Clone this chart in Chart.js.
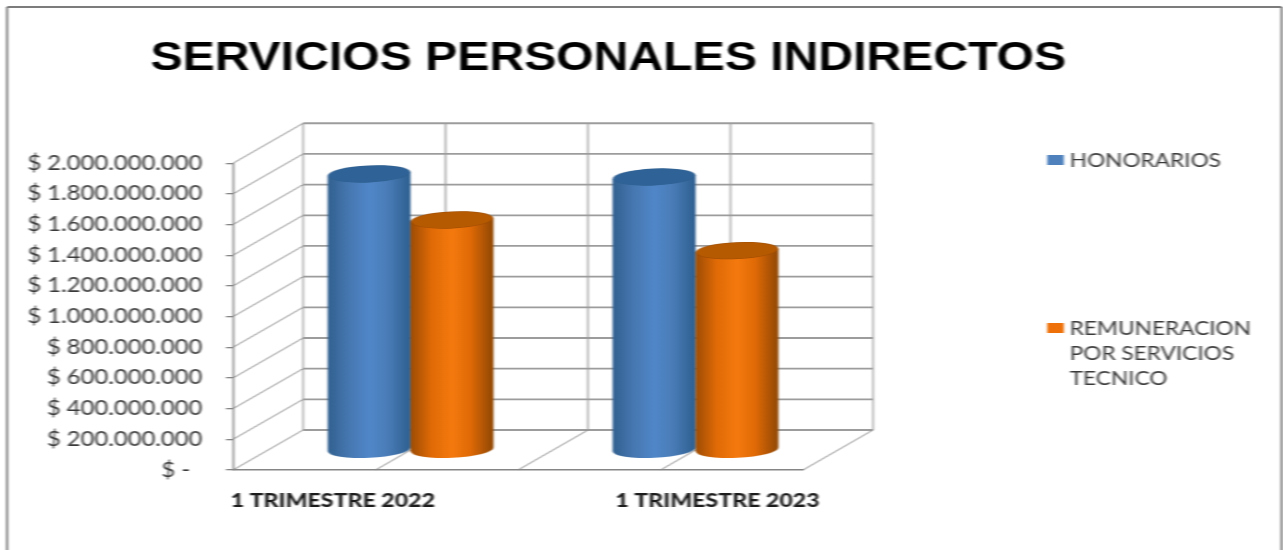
<!DOCTYPE html>
<html>
<head>
<meta charset="utf-8">
<script src="https://cdn.jsdelivr.net/npm/chart.js@4"></script>
<style>
  html, body { margin: 0; padding: 0; background: #fff; overflow: hidden; }
  /* the original picture is a horizontally stretched, soft screenshot */
  #wrap { position: absolute; left: 0; top: 0; width: 1087px; height: 550px; transform-origin: 0 0; transform: scaleX(1.18); filter: blur(0.7px); }
</style>
</head>
<body>
<div id="wrap"><canvas id="chart" width="1087" height="550"></canvas></div>
<script>
// ── Data ──────────────────────────────────────────────────────────────────────
const categories = ['1 TRIMESTRE 2022', '1 TRIMESTRE 2023'];
const honorarios = [1800000000, 1780000000];
const remuneracion = [1500000000, 1300000000];
const seriesLines = [['HONORARIOS'], ['REMUNERACION', 'POR SERVICIOS', 'TECNICO']];
const yTickLabels = ['$ -  ', '$ 200.000.000', '$ 400.000.000', '$ 600.000.000', '$ 800.000.000',
  '$ 1.000.000.000', '$ 1.200.000.000', '$ 1.400.000.000', '$ 1.600.000.000', '$ 1.800.000.000', '$ 2.000.000.000'];

// ── Layout constants ──────────────────────────────────────────────────────────
const DEPTH_X = 59.3, DEPTH_Y = -40;   // back wall offset from the front plane
const CATEGORY_X = [282, 608];
const LEGEND_Y = [161, 329];
const GRID = '#9c9c9c', AXIS = '#858585';

const shades = {
  '#4f81bd': { cap: '#2f6398', stops: ['#31608f', '#4677b0', '#5087c9', '#4a7db8', '#2e5f90'] },
  '#ed7008': { cap: '#b65a02', stops: ['#9c4c04', '#e06a06', '#f57a0e', '#e06a06', '#8f4704'] }
};

// ── Cylinder bars ─────────────────────────────────────────────────────────────
class CylinderElement extends Chart.BarElement {
  draw(ctx) {
    const w = this.width, rx = w / 2, ry = 8.5, tilt = -0.055;
    const cx = this.x + DEPTH_X / 2;
    const top = this.y + DEPTH_Y / 2, bottom = this.base + DEPTH_Y / 2;
    const lift = Math.sin(tilt) * rx;
    const shade = shades[this.options.backgroundColor];
    const grad = ctx.createLinearGradient(cx - rx, 0, cx + rx, 0);
    [0, 0.25, 0.5, 0.72, 1].forEach((p, i) => grad.addColorStop(p, shade.stops[i]));
    ctx.save();
    ctx.beginPath();
    ctx.moveTo(cx - rx, top - lift);
    ctx.lineTo(cx + rx, top + lift);
    ctx.lineTo(cx + rx, bottom + lift);
    ctx.ellipse(cx, bottom, rx, ry, tilt, 0, Math.PI);
    ctx.closePath();
    ctx.fillStyle = grad;
    ctx.fill();
    ctx.beginPath();
    ctx.ellipse(cx, top, rx, ry, tilt, 0, Math.PI * 2);
    ctx.fillStyle = shade.stops[0];
    ctx.fill();
    ctx.beginPath();
    ctx.ellipse(cx, top, rx - 1, ry - 0.5, tilt, 0, Math.PI * 2);
    ctx.fillStyle = shade.cap;
    ctx.fill();
    ctx.restore();
  }
}
CylinderElement.id = 'cylinder';
CylinderElement.defaults = Chart.BarElement.defaults;
CylinderElement.defaultRoutes = Chart.BarElement.defaultRoutes;

class CylinderController extends Chart.BarController {}
CylinderController.id = 'cylinder';
CylinderController.defaults = Object.assign({}, Chart.BarController.defaults, { dataElementType: 'cylinder' });
CylinderController.overrides = Chart.BarController.overrides;
Chart.register(CylinderElement, CylinderController);

// ── Walls, floor, frame, labels ───────────────────────────────────────────────
function line(ctx, x1, y1, x2, y2, color, width) {
  ctx.strokeStyle = color;
  ctx.lineWidth = width;
  ctx.beginPath();
  ctx.moveTo(x1, y1);
  ctx.lineTo(x2, y2);
  ctx.stroke();
}

const scene = {
  id: 'scene',
  afterLayout(chart) {
    // title is centred over the plot and legend, not the whole frame
    chart.titleBlock.left = 0;
    chart.titleBlock.right = 1031;
  },
  beforeDatasetsDraw(chart) {
    const { ctx, scales: { x, y } } = chart;
    const floor = y.getPixelForValue(0);
    ctx.save();
    y.ticks.forEach(t => {
      const py = y.getPixelForValue(t.value);
      line(ctx, x.left, py, x.left + DEPTH_X, py + DEPTH_Y, '#8c8c8c', 1);
      line(ctx, x.left + DEPTH_X, py + DEPTH_Y, x.right + DEPTH_X, py + DEPTH_Y, GRID, 1.8);
    });
    const step = (x.getPixelForValue(1) - x.getPixelForValue(0)) / 2;
    for (let k = 0; k <= 4; k++) {
      const px = x.left + k * step;
      line(ctx, px + DEPTH_X, y.top + DEPTH_Y, px + DEPTH_X, floor + DEPTH_Y, GRID, 1.3);
      if (k > 0) line(ctx, px, floor, px + DEPTH_X, floor + DEPTH_Y, '#8c8c8c', 1);
    }
    // orange sits in front of blue, so draw in dataset order
    chart.data.datasets.forEach((d, i) => {
      chart.getDatasetMeta(i).data.forEach(el => el.draw(ctx));
    });
    ctx.restore();
    return false;
  },
  afterDraw(chart) {
    const { ctx } = chart;
    ctx.save();
    // outer frame, open at the bottom
    line(ctx, 6, 7, 6, 550, '#7c7c7c', 1.8);
    line(ctx, 6, 7, 1086, 7, '#7c7c7c', 1.8);
    line(ctx, 1086, 7, 1086, 550, '#7c7c7c', 1.8);
    // category labels
    ctx.fillStyle = '#1c1c1c';
    ctx.font = '900 19.6px Lato';
    ctx.textAlign = 'center';
    ctx.textBaseline = 'middle';
    categories.forEach((c, i) => ctx.fillText(c, CATEGORY_X[i], 501));
    // legend
    ctx.font = '19.2px Lato';
    ctx.textAlign = 'left';
    seriesLines.forEach((lines, i) => {
      ctx.fillStyle = chart.data.datasets[i].backgroundColor;
      ctx.fillRect(887.5, LEGEND_Y[i] - 6, 14, 10);
      ctx.fillStyle = '#3a3a3a';
      lines.forEach((t, k) => ctx.fillText(t, 906.5, LEGEND_Y[i] + k * 25));
    });
    ctx.restore();
  }
};

// ── Chart ─────────────────────────────────────────────────────────────────────
new Chart(document.getElementById('chart'), {
  type: 'cylinder',
  data: {
    labels: categories,
    datasets: [
      { label: seriesLines[0].join(' '), data: honorarios, backgroundColor: '#4f81bd', clip: false,
        barPercentage: 1, categoryPercentage: 0.582 },
      { label: seriesLines[1].join(' '), data: remuneracion, backgroundColor: '#ed7008', clip: false,
        barPercentage: 1, categoryPercentage: 0.582 }
    ]
  },
  options: {
    responsive: false,
    animation: false,
    layout: { padding: { left: 0, right: 406.5, top: 0, bottom: 80 } },
    plugins: {
      legend: { display: false },
      tooltip: { enabled: false },
      title: {
        display: true,
        text: 'SERVICIOS PERSONALES INDIRECTOS',
        color: '#000',
        font: { family: '"Liberation Sans"', size: 40.8, weight: 'bold' },
        padding: { top: 34, bottom: 80.3 }
      }
    },
    scales: {
      x: {
        type: 'category',
        offset: true,
        grid: { display: false },
        border: { display: true, color: AXIS, width: 1.5 },
        ticks: { display: false },
        afterFit(s) { s.height = 0; }
      },
      y: {
        type: 'linear',
        min: 0,
        max: 2000000000,
        grid: { drawOnChartArea: false, drawTicks: true, tickLength: 6, color: AXIS, lineWidth: 1.3 },
        border: { display: true, color: AXIS, width: 1.5 },
        ticks: {
          stepSize: 200000000,
          padding: 20,
          color: '#3a3a3a',
          font: { family: 'Lato', size: 20.2 },
          callback: (v, i) => yTickLabels[i]
        },
        afterFit(s) { s.width = 197.5; }
      }
    }
  },
  plugins: [scene]
});
</script>
</body>
</html>
